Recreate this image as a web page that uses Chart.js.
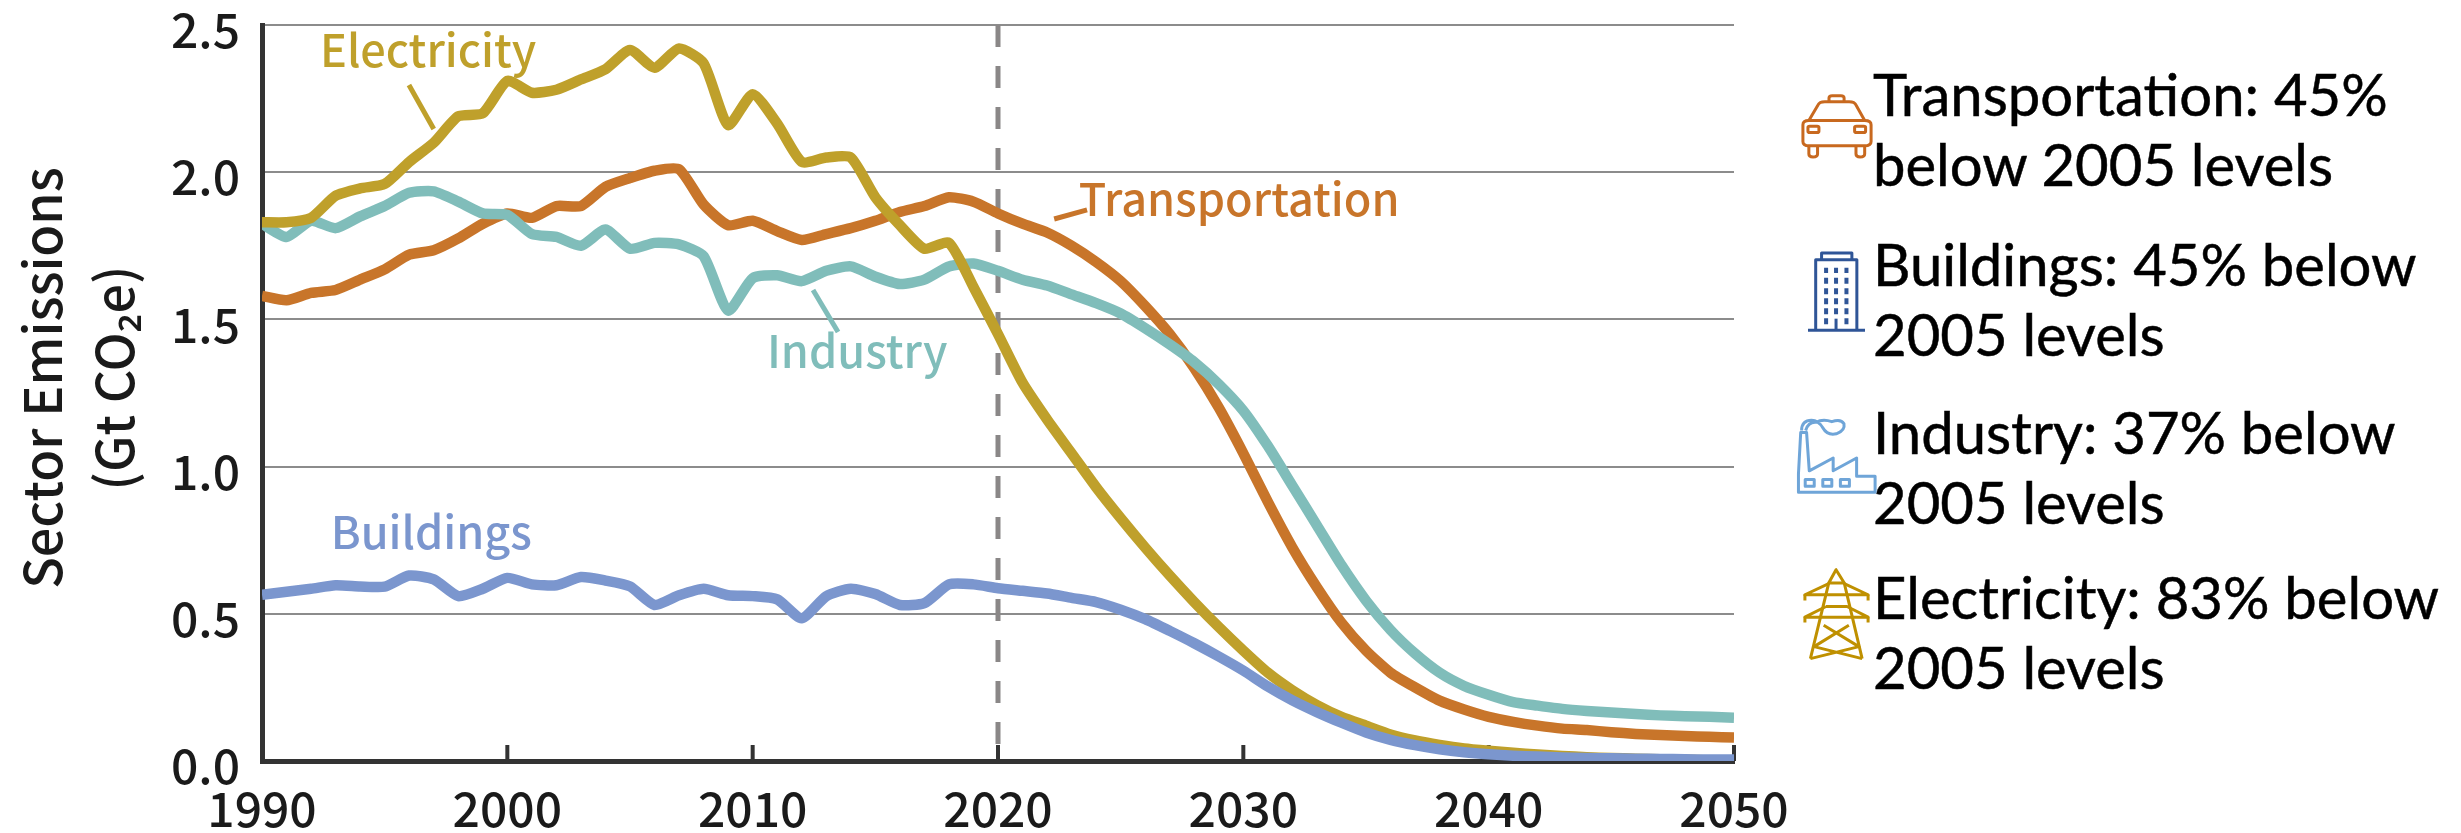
<!DOCTYPE html>
<html>
<head>
<meta charset="utf-8">
<title>Sector Emissions</title>
<script src="https://cdn.jsdelivr.net/npm/chart.js@4"></script>
<style>
html,body{margin:0;padding:0;background:#fff;width:2461px;height:833px;overflow:hidden}
#wrap{position:relative;width:2461px;height:833px}
canvas{position:absolute;left:0;top:0}
.leg{position:absolute;left:1873px;font-family:Lato,sans-serif;font-size:58px;line-height:70px;color:#000;white-space:nowrap;-webkit-text-stroke:0.5px #000}
.ico{position:absolute;overflow:visible}
.ico *{fill:none;vector-effect:non-scaling-stroke;stroke-width:3;stroke-linejoin:round}
</style>
</head>
<body>
<div id="wrap">
<canvas id="c" width="2461" height="833"></canvas>
<div class="leg" style="top:59px">Transportation: 45%<br>below 2005 levels</div>
<div class="leg" style="top:229px">Buildings: 45% below<br>2005 levels</div>
<div class="leg" style="top:397px">Industry: 37% below<br>2005 levels</div>
<div class="leg" style="top:562px">Electricity: 83% below<br>2005 levels</div>

<svg class="ico" style="left:1802px;top:95px;width:70px;height:63px" viewBox="115 165 153 190" preserveAspectRatio="none">
 <g stroke="#C8691F">
  <path d="M117 255Q117 242 130 242H252Q266 242 266 255V305Q266 318 252 318H130Q117 318 117 305Z"/>
  <path d="M130 242L150 195Q153 185 165 185H218Q230 185 233 195L252 242"/>
  <path d="M174 185V174Q174 167 181 167H200Q207 167 207 174V185"/>
  <rect x="128" y="259" width="24" height="19" rx="4"/><rect x="230" y="259" width="24" height="19" rx="4"/>
  <path d="M130 318V343Q130 352 139 352Q149 352 149 343V318"/><path d="M233 318V343Q233 352 242 352Q252 352 252 343V318"/>
 </g>
</svg>
<svg class="ico" style="left:1808px;top:252px;width:57px;height:80px" viewBox="128 635 126 240" preserveAspectRatio="none">
 <g stroke="#2F5597">
  <path d="M128 870H254"/><path d="M145 870V658H236V870"/><path d="M158 658V638H225V658"/><path d="M190 835V870"/>
  <path d="M168 682V698M190 682V698M213 682V698M168 712V730M190 712V730M213 712V730M168 744V762M190 744V762M213 744V762M168 774V792M190 774V792M213 774V792M168 804V822M190 804V822M213 804V822M168 834V852M213 834V852" style="stroke-width:4"/>
 </g>
</svg>
<svg class="ico" style="left:1798px;top:418px;width:78px;height:75px" viewBox="105 55 173 223" preserveAspectRatio="none">
 <g stroke="#6FA5D8">
  <path d="M106 276V222L111 98H124L130 212L183 174V212L235 174V228H276V276Z"/>
  <rect x="121" y="238" width="20" height="20"/><rect x="160" y="238" width="20" height="20"/><rect x="199" y="238" width="20" height="20"/>
  <path d="M113 92Q113 62 135 62Q150 62 160 84Q170 108 190 102Q210 92 207 72Q200 56 180 66Q160 56 145 68Q128 66 122 92"/>
 </g>
</svg>
<svg class="ico" style="left:1804px;top:568px;width:65px;height:92px" viewBox="120 505 142 275" preserveAspectRatio="none">
 <g stroke="#BF9000">
  <path d="M190 510L174 550H208Z"/><path d="M174 550L134 776M208 550L247 776"/>
  <path d="M174 552L122 585H260L208 552"/><path d="M122 585V602M260 585V602"/>
  <path d="M168 620L122 652H260L214 620H168"/><path d="M122 652V668M260 652V668"/>
  <path d="M163 676L240 740L134 776M218 676L142 740L247 776"/>
 </g>
</svg>
</div>
<script>
const years = [1990,1991,1992,1993,1994,1995,1996,1997,1998,1999,2000,2001,2002,2003,2004,2005,2006,2007,2008,2009,2010,2011,2012,2013,2014,2015,2016,2017,2018,2019,2020,2021,2022,2023,2024,2025,2026,2027,2028,2029,2030,2031,2032,2033,2034,2035,2036,2037,2038,2039,2040,2041,2042,2043,2044,2045,2046,2047,2048,2049,2050];
const electricity = [1.83,1.83,1.845,1.92,1.945,1.96,2.035,2.10,2.19,2.20,2.31,2.27,2.28,2.315,2.35,2.415,2.355,2.42,2.37,2.16,2.265,2.165,2.035,2.05,2.05,1.915,1.82,1.74,1.76,1.61,1.45,1.285,1.16,1.045,0.93,0.825,0.725,0.63,0.54,0.455,0.375,0.30,0.24,0.19,0.15,0.12,0.09,0.07,0.055,0.043,0.035,0.028,0.022,0.017,0.013,0.01,0.008,0.006,0.004,0.002,0];
const transportation = [1.58,1.565,1.59,1.60,1.635,1.67,1.72,1.735,1.775,1.825,1.86,1.845,1.885,1.885,1.95,1.98,2.005,2.01,1.89,1.82,1.835,1.80,1.77,1.79,1.81,1.835,1.865,1.885,1.915,1.90,1.86,1.825,1.795,1.75,1.695,1.63,1.545,1.45,1.335,1.20,1.045,0.88,0.725,0.59,0.47,0.375,0.30,0.25,0.205,0.175,0.15,0.133,0.12,0.11,0.105,0.098,0.092,0.088,0.085,0.082,0.08];
const industry = [1.825,1.78,1.835,1.81,1.85,1.885,1.93,1.935,1.90,1.86,1.855,1.79,1.78,1.75,1.805,1.74,1.76,1.755,1.715,1.53,1.64,1.65,1.63,1.665,1.68,1.645,1.62,1.635,1.68,1.69,1.665,1.635,1.615,1.585,1.555,1.52,1.47,1.415,1.355,1.28,1.19,1.07,0.935,0.80,0.665,0.545,0.445,0.365,0.30,0.255,0.225,0.20,0.188,0.177,0.17,0.165,0.16,0.155,0.152,0.15,0.147];
const buildings = [0.565,0.575,0.585,0.597,0.593,0.592,0.63,0.617,0.56,0.585,0.622,0.60,0.597,0.625,0.613,0.593,0.53,0.563,0.585,0.563,0.56,0.549,0.485,0.56,0.585,0.567,0.53,0.536,0.60,0.60,0.587,0.578,0.569,0.554,0.54,0.514,0.482,0.442,0.40,0.355,0.307,0.253,0.206,0.166,0.13,0.097,0.072,0.054,0.04,0.03,0.023,0.018,0.015,0.012,0.01,0.009,0.008,0.007,0.006,0.005,0.005];
const xTickValues = [1990,2000,2010,2020,2030,2040,2050];
const yTickValues = [0,0.5,1,1.5,2,2.5];
const historyEnd = 2020;
const seriesNames = ['Transportation','Industry','Electricity','Buildings'];
const seriesColors = ['#C8752A','#80BDBA','#BFA02B','#7B96CE'];
const labelYears = [2029.83,2014.26,1996.77,1996.9];
const labelValues = [1.909,1.393,2.415,0.778];
const leaderYears = [[2022.29,2023.63],[2012.46,2013.48],[1995.99,1997.0],null];
const leaderValues = [[1.841,1.872],[1.60,1.457],[2.296,2.147],null];
const yTitleLines = ['Sector Emissions','(Gt CO\u2082e)'];

const FONT = '"Noto Sans CJK JP","Noto Sans",sans-serif';
const pts = a => a.map((v,i)=>({x:years[i],y:v}));
const overlay = {
  id:'overlay',
  beforeDatasetsDraw(ch){
    const {ctx,scales:{x,y}} = ch;
    ctx.save();
    ctx.strokeStyle='#8A8787';ctx.lineWidth=5;ctx.setLineDash([22,19]);
    ctx.beginPath();ctx.moveTo(x.getPixelForValue(historyEnd),y.top);ctx.lineTo(x.getPixelForValue(historyEnd),y.bottom);ctx.stroke();
    ctx.setLineDash([]);
    ctx.strokeStyle='#333';ctx.lineWidth=4;
    xTickValues.forEach(v=>{const p=x.getPixelForValue(v);ctx.beginPath();ctx.moveTo(p,y.bottom);ctx.lineTo(p,y.bottom-16);ctx.stroke();});
    ctx.restore();
  },
  afterDatasetsDraw(ch){
    const {ctx,scales:{x,y}} = ch;
    ctx.save();
    seriesNames.forEach((n,i)=>{
      ctx.fillStyle=seriesColors[i];
      ctx.font='500 45px '+FONT;ctx.textAlign='center';ctx.textBaseline='middle';
      ctx.fillText(n,x.getPixelForValue(labelYears[i]),y.getPixelForValue(labelValues[i]));
      if(leaderYears[i]){
        ctx.strokeStyle=seriesColors[i];ctx.lineWidth=5;
        ctx.beginPath();
        ctx.moveTo(x.getPixelForValue(leaderYears[i][0]),y.getPixelForValue(leaderValues[i][0]));
        ctx.lineTo(x.getPixelForValue(leaderYears[i][1]),y.getPixelForValue(leaderValues[i][1]));
        ctx.stroke();
      }
    });
    ctx.fillStyle='#1a1a1a';ctx.font='500 52px '+FONT;ctx.textAlign='center';ctx.textBaseline='middle';
    ctx.translate(0,378);ctx.rotate(-Math.PI/2);
    ctx.fillText(yTitleLines[0],0,42);
    ctx.fillText(yTitleLines[1],0,114);
    ctx.restore();
  }
};
new Chart(document.getElementById('c'),{
  type:'line',
  data:{datasets:seriesNames.map((n,i)=>({
    label:n,
    data:pts([transportation,industry,electricity,buildings][i]),
    borderColor:seriesColors[i],borderWidth:10.5,pointRadius:0,tension:0.2,borderJoinStyle:'round',borderCapStyle:'butt',fill:false
  })).reverse()},
  options:{
    responsive:false,animation:false,events:[],
    layout:{padding:{left:0,top:25,right:727,bottom:0}},
    plugins:{legend:{display:false},title:{display:false},tooltip:{enabled:false}},
    scales:{
      x:{type:'linear',min:1990,max:2050,
        afterBuildTicks:s=>{s.ticks=xTickValues.map(v=>({value:v}));},
        afterFit:s=>{s.height=72;s.paddingLeft=0;s.paddingRight=0;},
        grid:{display:false},
        border:{display:true,color:'#333',width:5},
        ticks:{display:true,maxRotation:0,autoSkip:false,padding:11,color:'#1a1a1a',font:{family:FONT,size:48,weight:'500'},callback:v=>String(v)}
      },
      y:{min:0,max:2.5,
        afterBuildTicks:s=>{s.ticks=yTickValues.map(v=>({value:v}));},
        afterFit:s=>{s.width=262;s.paddingTop=0;s.paddingBottom=0;},
        grid:{color:'#8C8C8C',lineWidth:2,drawTicks:false},
        border:{display:true,color:'#333',width:5},
        ticks:{padding:22,labelOffset:5,color:'#1a1a1a',autoSkip:false,font:{family:FONT,size:48,weight:'500'},callback:v=>v.toFixed(1)}
      }
    }
  },
  plugins:[overlay]
});
</script>
</body>
</html>
